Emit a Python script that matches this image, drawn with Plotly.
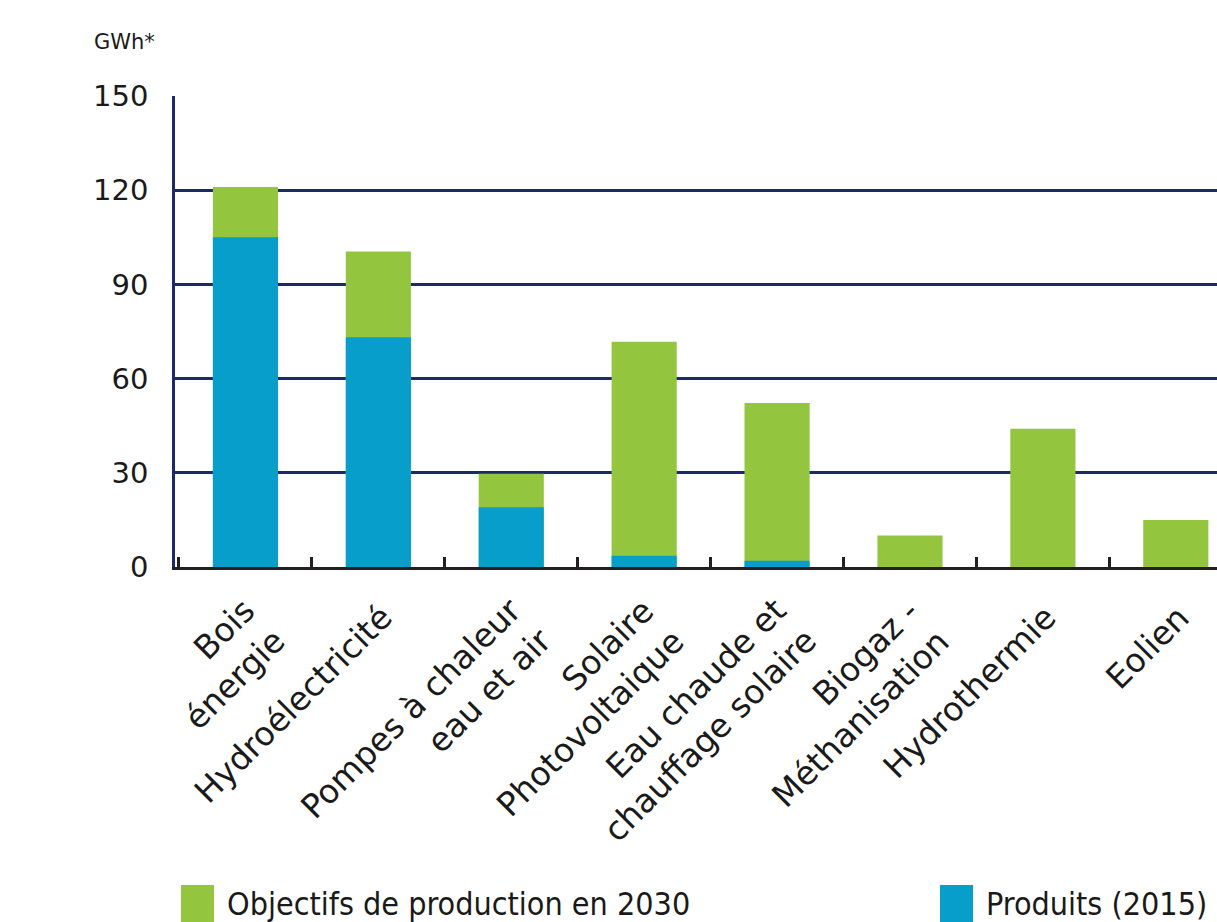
import plotly.graph_objects as go

# data
categories = ["Bois<br>énergie", "Hydroélectricité", "Pompes à chaleur<br>eau et air",
              "Solaire<br>Photovoltaique", "Eau chaude et<br>chauffage solaire",
              "Biogaz -<br>Méthanisation", "Hydrothermie", "Eolien"]
objectifs_2030 = [121, 100.5, 29.7, 71.7, 52.2, 10, 44, 15]
produits_2015 = [105, 73.2, 19, 3.6, 2, 0, 0, 0]
y_ticks = [0, 30, 60, 90, 120, 150]
series_names = ["Objectifs de production en 2030", "Produits (2015)"]
unit_label = "GWh*"

# styles
GREEN = "#93c63e"
BLUE = "#079ecb"
NAVY = "#1c2a6b"
DARK = "#231f20"
TEXT = "#1a1a1a"
FONT = "DejaVu Sans"
LEGEND_FONT = "Liberation Sans Narrow, DejaVu Sans Condensed, Liberation Sans"
LABEL_SIZE = 33

W, H = 1217, 922
L, T, B = 175, 96, 355
PW, PH = W - L, H - T - B


def px(x):  # pixel -> paper x
    return (x - L) / PW


def py(y):  # pixel -> paper y
    return (H - B - y) / PH


fig = go.Figure()
fig.add_bar(x=categories, y=objectifs_2030, name=series_names[0],
            marker=dict(color=GREEN, line=dict(width=0)), width=0.49)
fig.add_bar(x=categories, y=produits_2015, name=series_names[1],
            marker=dict(color=BLUE, line=dict(width=0)), width=0.49)

fig.update_layout(
    barmode="overlay", width=W, height=H, showlegend=False,
    margin=dict(l=L, r=0, t=T, b=B),
    plot_bgcolor="white", paper_bgcolor="white",
    font=dict(family=FONT, color=TEXT),
)
fig.update_xaxes(range=[-0.53, 7.31], showticklabels=False, showgrid=False,
                 tickson="boundaries", ticks="inside", ticklen=10, tickwidth=2.5,
                 tickcolor=DARK, showline=True, linecolor=DARK, linewidth=3)
fig.update_yaxes(range=[0, 150], tickvals=y_ticks, showgrid=True, gridcolor=NAVY,
                 gridwidth=2.5, zeroline=False, showline=True, linecolor=NAVY,
                 linewidth=2.5, ticks="outside", ticklen=18,
                 tickcolor="rgba(0,0,0,0)", tickfont=dict(size=29, color=TEXT))

# rotated category labels, lines aligned on their right end
for cat in categories:
    n = cat.count("<br>") + 1
    h = LABEL_SIZE * 1.17 + (n - 1) * LABEL_SIZE * 1.3 + 2
    fig.add_annotation(x=cat, y=0, xref="x", yref="y", text=cat, textangle=-45,
                       showarrow=False, xanchor="right", yanchor="top",
                       xshift=-5 + 0.707 * h - 4 * (n - 1), yshift=-28 + 7 * (n - 1),
                       align="right", font=dict(size=LABEL_SIZE, color=TEXT))

# unit
fig.add_annotation(x=px(157), y=py(42), xref="paper", yref="paper", text=unit_label,
                   showarrow=False, xanchor="right", yanchor="middle",
                   font=dict(size=21, color=TEXT))

# legend drawn by hand (big swatches)
legend_items = [(series_names[0], GREEN, 181, 225), (series_names[1], BLUE, 940, 984)]
for name, color, sx, tx in legend_items:
    fig.add_shape(type="rect", xref="paper", yref="paper", x0=px(sx), x1=px(sx + 33),
                  y0=py(885), y1=py(940), fillcolor=color, line=dict(width=0))
    fig.add_annotation(x=px(tx), y=py(904), xref="paper", yref="paper", text=name,
                       showarrow=False, xanchor="left", yanchor="middle",
                       font=dict(family=LEGEND_FONT, size=32, color=TEXT))

fig.write_html("out.html", config={"displayModeBar": False},
               post_script="document.body.style.margin='0';")
